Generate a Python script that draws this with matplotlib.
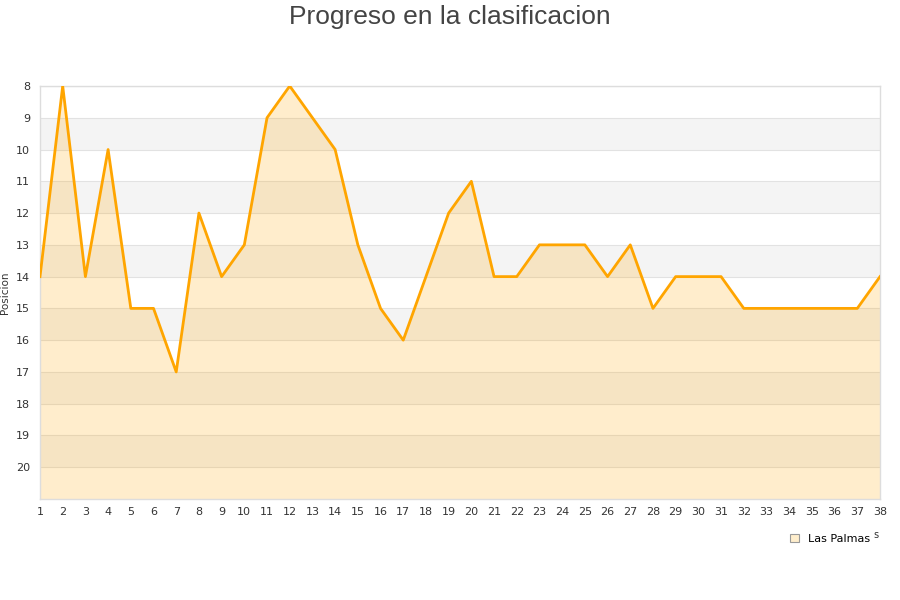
import matplotlib
matplotlib.use("Agg")
import matplotlib.pyplot as plt
from matplotlib.patches import Patch

jornadas = list(range(1, 39))
posiciones = [14, 8, 14, 10, 15, 15, 17, 12, 14, 13, 9, 8, 9, 10, 13, 15, 16, 14, 12, 11,
              14, 14, 13, 13, 13, 14, 13, 15, 14, 14, 14, 15, 15, 15, 15, 15, 15, 14]
y_ticks = list(range(8, 21))
equipo = "Las Palmas"
titulo = "Progreso en la clasificacion"

fig = plt.figure(figsize=(9, 6), dpi=100)
ax = fig.add_axes([40/900, 1-499/600, 840/900, 413/600])

ax.set_xlim(1, 38)
ax.set_ylim(21, 8)

for y0 in range(9, 21, 2):
    ax.axhspan(y0, y0 + 1, color="#f4f4f4", zorder=0, lw=0)
for y in y_ticks:
    ax.axhline(y, color="#e2e2e2", lw=0.8, zorder=0.5)

ax.fill_between(jornadas, posiciones, 21, color="#ffa500", alpha=0.2, lw=0, zorder=1)
ax.plot(jornadas, posiciones, color="#ffa500", lw=2.0, zorder=3)

ax.set_xticks(jornadas)
ax.set_yticks(y_ticks)
ax.tick_params(axis="both", length=0, labelsize=8, labelcolor="#333333")
ax.tick_params(axis="x", pad=6)
ax.tick_params(axis="y", pad=7)
for s in ax.spines.values():
    s.set_color("#dddddd")
    s.set_linewidth(1)

ax.set_ylabel("Posicion", fontsize=7.5, color="#333333")
ax.yaxis.set_label_coords(-30/840, 0.5)
ax.set_xlabel("Jornadas", fontsize=7, color="#333333")
ax.xaxis.set_label_coords(1.0, -0.074)
ax.xaxis.label.set_horizontalalignment("right")

handle = Patch(facecolor="#ffeecc", edgecolor="#999999", linewidth=0.8)
leg = ax.legend([handle], [equipo], loc="upper right", bbox_to_anchor=(0.993, -0.073),
                frameon=True, fontsize=8, handlelength=0.8, handleheight=0.8,
                borderpad=0.4, handletextpad=0.8, borderaxespad=0)
leg.get_frame().set_facecolor("white")
leg.get_frame().set_edgecolor("none")
leg.get_frame().set_alpha(1)
leg.set_zorder(10)

fig.text(0.5, 0.972, titulo, ha="center", va="center", fontsize=19,
         color="#444444", family="Liberation Sans")

fig.savefig("out.png", dpi=100)
